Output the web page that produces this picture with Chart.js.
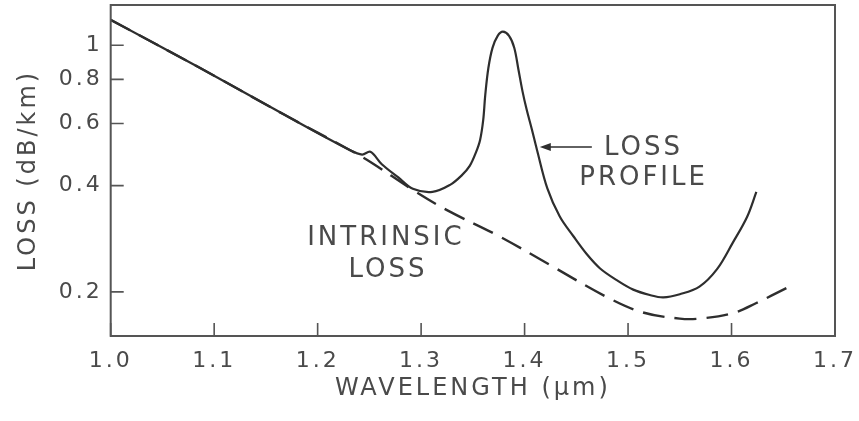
<!DOCTYPE html>
<html>
<head>
<meta charset="utf-8">
<script src="https://cdn.jsdelivr.net/npm/chart.js@4.4.1/dist/chart.umd.min.js"></script>
<style>
  html, body { margin: 0; padding: 0; background: #ffffff; }
  #c { display: block; }
</style>
</head>
<body>
<canvas id="c" width="859" height="421"></canvas>
<script>
// ---- data ----
const wavelengthProfile = [1.000, 1.086, 1.168, 1.232, 1.243, 1.251, 1.262, 1.278, 1.292, 1.311, 1.328, 1.339, 1.347, 1.353, 1.357, 1.360, 1.362, 1.365, 1.369, 1.374, 1.379, 1.385, 1.390, 1.394, 1.398, 1.402, 1.407, 1.412, 1.422, 1.434, 1.447, 1.460, 1.473, 1.489, 1.505, 1.521, 1.534, 1.550, 1.569, 1.586, 1.601, 1.615, 1.624];
const lossProfile       = [1.18,  0.863, 0.635, 0.503, 0.490, 0.499, 0.460, 0.422, 0.392, 0.384, 0.402, 0.427, 0.455, 0.497, 0.539, 0.613, 0.723, 0.862, 0.983, 1.063, 1.092, 1.063, 0.984, 0.855, 0.740, 0.657, 0.578, 0.505, 0.393, 0.327, 0.288, 0.256, 0.233, 0.216, 0.203, 0.196, 0.193, 0.197, 0.207, 0.232, 0.275, 0.326, 0.384];

const wavelengthIntrinsic = [1.000, 1.086, 1.168, 1.231, 1.251, 1.292, 1.325, 1.376, 1.425, 1.480, 1.514, 1.550, 1.569, 1.601, 1.624, 1.653];
const lossIntrinsic       = [1.18,  0.863, 0.635, 0.505, 0.467, 0.389, 0.341, 0.287, 0.238, 0.193, 0.175, 0.168, 0.168, 0.174, 0.186, 0.205];

const xTicks = [1.0, 1.1, 1.2, 1.3, 1.4, 1.5, 1.6, 1.7];
const yTicks = [0.2, 0.4, 0.6, 0.8, 1];

const xTitle = 'WAVELENGTH (\u00b5m)';
const yTitle = 'LOSS (dB/km)';

// annotation texts, anchored in data coordinates
const noteLines = [
  { text: 'LOSS',      x: 1.515, y: 0.512 },
  { text: 'PROFILE',   x: 1.515, y: 0.420 },
  { text: 'INTRINSIC', x: 1.266, y: 0.284 },
  { text: 'LOSS',      x: 1.268, y: 0.230 }
];
const arrowFrom = { x: 1.465, y: 0.515 };
const arrowTo   = { x: 1.4147, y: 0.515 };

// ---- styling ----
const INK = '#2e2e2e';
const TEXT = '#4a4a4a';
const FONT = '"DejaVu Sans", "Liberation Sans", sans-serif';
const SPACING = '3px';

const framePlugin = {
  id: 'frame',
  beforeDraw(chart) {
    chart.ctx.letterSpacing = SPACING;
  },
  afterDraw(chart) {
    const { ctx, chartArea: a, scales: { x, y } } = chart;
    ctx.save();
    ctx.strokeStyle = '#555555';
    ctx.lineWidth = 2;
    ctx.strokeRect(a.left, a.top, a.right - a.left, a.bottom - a.top);
    ctx.lineWidth = 1.6;
    ctx.beginPath();
    xTicks.forEach(v => {
      const px = x.getPixelForValue(v);
      ctx.moveTo(px, a.bottom);
      ctx.lineTo(px, a.bottom - 13);
    });
    yTicks.forEach(v => {
      const py = y.getPixelForValue(v);
      ctx.moveTo(a.left, py);
      ctx.lineTo(a.left + 13, py);
    });
    ctx.stroke();

    // annotation texts
    ctx.letterSpacing = SPACING;
    ctx.fillStyle = TEXT;
    ctx.font = '26px ' + FONT;
    ctx.textAlign = 'center';
    ctx.textBaseline = 'middle';
    noteLines.forEach(n => {
      ctx.fillText(n.text, x.getPixelForValue(n.x), y.getPixelForValue(n.y));
    });

    // arrow
    const x0 = x.getPixelForValue(arrowFrom.x), y0 = y.getPixelForValue(arrowFrom.y);
    const x1 = x.getPixelForValue(arrowTo.x),   y1 = y.getPixelForValue(arrowTo.y);
    ctx.strokeStyle = INK;
    ctx.lineWidth = 1.6;
    ctx.beginPath();
    ctx.moveTo(x0, y0);
    ctx.lineTo(x1 + 8, y1);
    ctx.stroke();
    ctx.fillStyle = INK;
    ctx.beginPath();
    ctx.moveTo(x1, y1);
    ctx.lineTo(x1 + 11, y1 - 4);
    ctx.lineTo(x1 + 11, y1 + 4);
    ctx.closePath();
    ctx.fill();
    ctx.restore();
  }
};

const toPoints = (xs, ys) => xs.map((v, i) => ({ x: v, y: ys[i] }));

new Chart(document.getElementById('c'), {
  type: 'line',
  data: {
    datasets: [
      {
        label: 'Intrinsic loss',
        data: toPoints(wavelengthIntrinsic, lossIntrinsic),
        borderColor: INK,
        borderWidth: 2.4,
        borderDash: [22, 10],
        pointRadius: 0,
        tension: 0.35,
        fill: false
      },
      {
        label: 'Loss profile',
        data: toPoints(wavelengthProfile, lossProfile),
        borderColor: INK,
        borderWidth: 2.2,
        pointRadius: 0,
        tension: 0.35,
        fill: false
      }
    ]
  },
  plugins: [framePlugin],
  options: {
    responsive: false,
    animation: false,
    devicePixelRatio: 1,
    layout: { padding: { left: 0, right: 24, top: 5, bottom: 0 } },
    plugins: { legend: { display: false }, tooltip: { enabled: false } },
    scales: {
      x: {
        type: 'linear',
        min: 1.0,
        max: 1.7,
        grid: { display: false, drawTicks: false },
        border: { display: false },
        afterBuildTicks: s => { s.ticks = xTicks.map(v => ({ value: v })); },
        afterFit: s => { s.height = 85; s.paddingLeft = 0; s.paddingRight = 0; },
        ticks: {
          color: TEXT,
          font: { family: FONT, size: 22 },
          padding: 12,
          maxRotation: 0,
          autoSkip: false,
          callback: v => Number(v).toFixed(1)
        },
        title: {
          display: true,
          text: xTitle,
          color: TEXT,
          font: { family: FONT, size: 24 },
          padding: { top: 0, bottom: 18 }
        }
      },
      y: {
        type: 'logarithmic',
        min: 0.15,
        max: 1.3,
        grid: { display: false, drawTicks: false },
        border: { display: false },
        afterBuildTicks: s => { s.ticks = yTicks.map(v => ({ value: v })); },
        afterFit: s => { s.width = 110.7; s.paddingTop = 0; s.paddingBottom = 0; },
        ticks: {
          color: TEXT,
          font: { family: FONT, size: 22 },
          padding: 8,
          autoSkip: false,
          callback: v => (v === 1 ? '1' : Number(v).toFixed(1))
        },
        title: {
          display: true,
          text: yTitle,
          color: TEXT,
          font: { family: FONT, size: 24 },
          padding: { top: 14, bottom: 0 }
        }
      }
    }
  }
});
</script>
</body>
</html>
